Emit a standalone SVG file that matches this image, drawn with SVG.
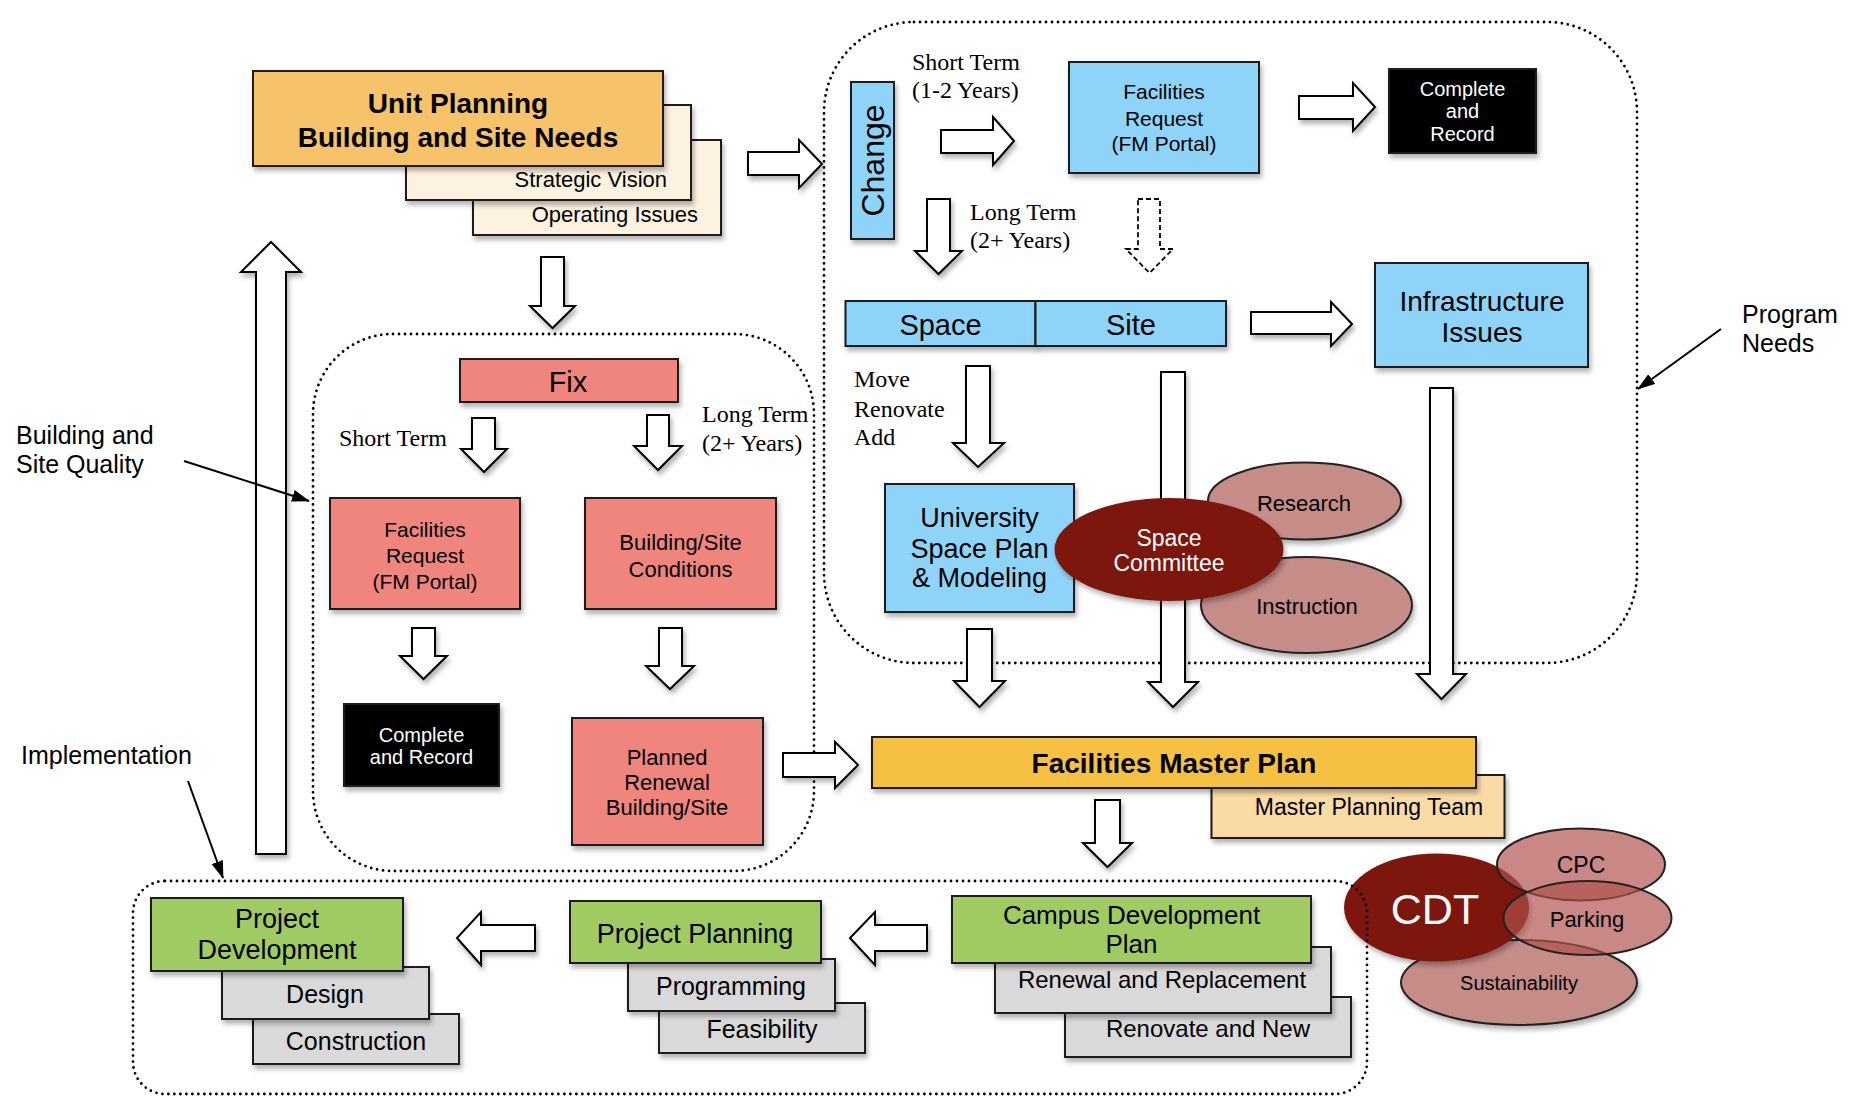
<svg xmlns="http://www.w3.org/2000/svg" width="1864" height="1109" viewBox="0 0 1864 1109">
<defs>
<filter id="sh" x="-10%" y="-10%" width="130%" height="140%"><feDropShadow dx="2" dy="4" stdDeviation="2.5" flood-color="#000" flood-opacity="0.3"/></filter>
<marker id="ah" markerWidth="18" markerHeight="12" refX="17" refY="6" orient="auto" markerUnits="userSpaceOnUse"><path d="M0,0 L18,6 L0,12 Z" fill="#000"/></marker>
</defs>
<style>
.s{font-family:"Liberation Sans",Arial,sans-serif;}
.sr{font-family:"Liberation Serif","Times New Roman",serif;font-size:24px;fill:#000;}
.box{stroke:#1a1a1a;stroke-width:2;filter:url(#sh);}
.cont{fill:none;stroke:#000;stroke-width:2.8;stroke-dasharray:0 6;stroke-linecap:round;}
.ar{fill:#fff;stroke:#000;stroke-width:2;stroke-linejoin:miter;filter:url(#sh);}
.dash{fill:#fff;stroke:#000;stroke-width:1.8;stroke-dasharray:5 3;}
.ann{stroke:#000;stroke-width:2;fill:none;marker-end:url(#ah);}
.c{text-anchor:middle;}
.e{text-anchor:end;}
.blue{fill:#8ED4F8;}
.red{fill:#F0857D;}
.grn{fill:#A0CB63;}
.gry{fill:#D9D9D9;}
.crm{fill:#FDF2DF;}
.blk{fill:#000;}
.w{fill:#fff;}
</style>
<rect width="1864" height="1109" fill="#fff"/>

<!-- CDT cluster (drawn beneath the bottom container) -->
<g id="cdt-cluster">
<ellipse cx="1519" cy="982.5" rx="118" ry="42.5" fill="#C58C88" stroke="#222" stroke-width="2" filter="url(#sh)"/>
<ellipse cx="1436.5" cy="907.5" rx="92.5" ry="54" fill="#7D1711" filter="url(#sh)"/>
<ellipse cx="1581" cy="864.5" rx="84" ry="36" fill="#B0504B" fill-opacity="0.68" stroke="#222" stroke-width="2"/>
<ellipse cx="1587.5" cy="918" rx="84" ry="37" fill="#B0504B" fill-opacity="0.68" stroke="#222" stroke-width="2"/>
<text class="s c" x="1435" y="924" font-size="43" fill="#fff">CDT</text>
<text class="s c" x="1581" y="873" font-size="23">CPC</text>
<text class="s c" x="1587" y="927" font-size="22">Parking</text>
<text class="s c" x="1519" y="990" font-size="20">Sustainability</text>
</g>

<!-- containers -->
<g id="containers">
<rect id="change-container" x="824" y="22" width="813" height="641" rx="90" ry="90" class="cont"/>
<rect id="fix-container" x="313" y="334" width="501" height="537" rx="80" ry="80" class="cont"/>
<rect id="implementation-container" x="133" y="881" width="1234" height="213" rx="32" ry="32" class="cont"/>
</g>

<!-- connectors -->
<g id="connectors">
<polygon class="ar" points="748,152 799,152 799,140 822,164 799,188 799,175 748,175"/>
<polygon class="ar" points="541,257 564,257 564,306 575,306 552.5,328 530,306 541,306"/>
<polygon class="ar" points="256,854 286,854 286,272 301,272 271,242 241,272 256,272"/>
<polygon class="ar" points="472,418 495,418 495,449 507,449 484,472 461,449 472,449"/>
<polygon class="ar" points="647,415 669,415 669,446 682,446 658,470 634,446 647,446"/>
<polygon class="ar" points="412,628 435,628 435,656 447,656 423.5,679 400,656 412,656"/>
<polygon class="ar" points="659,628 682,628 682,666 694,666 670,689 646,666 659,666"/>
<polygon class="ar" points="783,753 835,753 835,742 858,765 835,788 835,777 783,777"/>
<polygon class="ar" points="941,130 993,130 993,117 1014,141 993,165 993,153 941,153"/>
<polygon class="ar" points="1299,96 1353,96 1353,83 1375,107 1353,131 1353,119 1299,119"/>
<polygon class="ar" points="927,199 950,199 950,251 962,251 938.5,274 915,251 927,251"/>
<polygon class="dash" points="1138,199 1160,199 1160,249 1173,249 1149.5,273 1126,249 1138,249"/>
<polygon class="ar" points="1251,312 1331,312 1331,302 1352,324 1331,346 1331,334 1251,334"/>
<polygon class="ar" points="966,366 990,366 990,443 1004,443 978,467 953,443 966,443"/>
<polygon class="ar" points="1161,372 1185,372 1185,682 1198,682 1173,707 1148,682 1161,682"/>
<polygon class="ar" points="1430,388 1453,388 1453,674 1466,674 1441.5,699 1417,674 1430,674"/>
<polygon class="ar" points="967,629 992,629 992,681 1005,681 979.5,707 954,681 967,681"/>
<polygon class="ar" points="1095,800 1120,800 1120,843 1132,843 1107.5,867 1083,843 1095,843"/>
<polygon class="ar" points="927,925 875,925 875,912 850,938 875,965 875,951 927,951"/>
<polygon class="ar" points="535,925 481,925 481,912 457,938 481,965 481,951 535,951"/>
<line class="ann" x1="184" y1="461" x2="309" y2="501"/>
<line class="ann" x1="188" y1="781" x2="223" y2="878"/>
<line class="ann" x1="1721" y1="329" x2="1638" y2="389"/>
</g>

<!-- labels -->
<g id="labels">
<text class="s" x="16" y="444" font-size="25">Building and</text>
<text class="s" x="16" y="473" font-size="25">Site Quality</text>
<text class="s" x="21" y="764" font-size="25">Implementation</text>
<text class="s" x="1742" y="323" font-size="25">Program</text>
<text class="s" x="1742" y="352" font-size="25">Needs</text>
<text class="sr" x="912" y="70">Short Term</text>
<text class="sr" x="912" y="98">(1-2 Years)</text>
<text class="sr" x="970" y="220">Long Term</text>
<text class="sr" x="970" y="248">(2+ Years)</text>
<text class="sr" x="854" y="387">Move</text>
<text class="sr" x="854" y="417">Renovate</text>
<text class="sr" x="854" y="445">Add</text>
<text class="sr" x="339" y="446">Short Term</text>
<text class="sr" x="702" y="422">Long Term</text>
<text class="sr" x="702" y="451">(2+ Years)</text>
</g>

<!-- nodes -->
<g id="unit-planning">
<rect x="473" y="140" width="248" height="95" class="box crm"/>
<rect x="406" y="105" width="285" height="95" class="box crm"/>
<rect x="253" y="71" width="410" height="95" class="box" fill="#F6C26B"/>
<text class="s c" x="458" y="113" font-size="28" font-weight="bold">Unit Planning</text>
<text class="s c" x="458" y="147" font-size="28" font-weight="bold">Building and Site Needs</text>
<text class="s e" x="667" y="187" font-size="22">Strategic Vision</text>
<text class="s e" x="698" y="222" font-size="22">Operating Issues</text>
</g>

<g id="fix">
<rect x="460" y="359" width="218" height="43" class="box red"/>
<text class="s c" x="568" y="392" font-size="29">Fix</text>
</g>
<g id="fix-facilities-request">
<rect x="330" y="498" width="190" height="111" class="box red"/>
<text class="s c" x="425" y="537" font-size="21">Facilities</text>
<text class="s c" x="425" y="563" font-size="21">Request</text>
<text class="s c" x="425" y="589" font-size="21">(FM Portal)</text>
</g>
<g id="building-site-conditions">
<rect x="585" y="498" width="191" height="111" class="box red"/>
<text class="s c" x="680.5" y="550" font-size="22">Building/Site</text>
<text class="s c" x="680.5" y="577" font-size="22">Conditions</text>
</g>
<g id="fix-complete-record">
<rect x="344" y="704" width="155" height="82" class="box blk"/>
<text class="s c w" x="421.5" y="742" font-size="20">Complete</text>
<text class="s c w" x="421.5" y="764" font-size="20">and Record</text>
</g>
<g id="planned-renewal">
<rect x="572" y="718" width="191" height="127" class="box red"/>
<text class="s c" x="667" y="765" font-size="22">Planned</text>
<text class="s c" x="667" y="790" font-size="22">Renewal</text>
<text class="s c" x="667" y="815" font-size="22">Building/Site</text>
</g>

<g id="change">
<rect x="851" y="82" width="43" height="157" class="box blue"/>
<text class="s c" transform="translate(884,160.5) rotate(-90)" font-size="32">Change</text>
</g>
<g id="change-facilities-request">
<rect x="1069" y="62" width="190" height="111" class="box blue"/>
<text class="s c" x="1164" y="99" font-size="21">Facilities</text>
<text class="s c" x="1164" y="126" font-size="21">Request</text>
<text class="s c" x="1164" y="151" font-size="21">(FM Portal)</text>
</g>
<g id="change-complete-record">
<rect x="1389" y="69" width="147" height="84" class="box blk"/>
<text class="s c w" x="1462.5" y="96" font-size="20">Complete</text>
<text class="s c w" x="1462.5" y="118" font-size="20">and</text>
<text class="s c w" x="1462.5" y="141" font-size="20">Record</text>
</g>
<g id="space-site">
<rect x="845.5" y="301" width="190" height="45" class="box blue"/>
<rect x="1035.5" y="301" width="190.5" height="45" class="box blue"/>
<text class="s c" x="940.5" y="335" font-size="29">Space</text>
<text class="s c" x="1131" y="335" font-size="29">Site</text>
</g>
<g id="infrastructure-issues">
<rect x="1375" y="263" width="213" height="104" class="box blue"/>
<text class="s c" x="1482" y="311" font-size="28">Infrastructure</text>
<text class="s c" x="1482" y="342" font-size="28">Issues</text>
</g>
<g id="university-space-plan">
<rect x="885" y="484" width="189" height="128" class="box blue"/>
<text class="s c" x="979.5" y="527" font-size="27">University</text>
<text class="s c" x="979.5" y="558" font-size="27">Space Plan</text>
<text class="s c" x="979.5" y="587" font-size="27">&amp; Modeling</text>
</g>
<g id="research">
<ellipse cx="1304.5" cy="501" rx="96.5" ry="38.5" fill="#C58C88" stroke="#222" stroke-width="2" filter="url(#sh)"/>
<text class="s c" x="1304" y="511" font-size="22">Research</text>
</g>
<g id="instruction">
<ellipse cx="1306.5" cy="605" rx="105.5" ry="48" fill="#C58C88" stroke="#222" stroke-width="2" filter="url(#sh)"/>
<text class="s c" x="1307" y="614" font-size="22">Instruction</text>
</g>
<g id="space-committee">
<ellipse cx="1169" cy="549.5" rx="114.5" ry="51.5" fill="#7D1711" filter="url(#sh)"/>
<text class="s c w" x="1169" y="546" font-size="23">Space</text>
<text class="s c w" x="1169" y="571" font-size="23">Committee</text>
</g>

<g id="facilities-master-plan">
<rect x="1211.5" y="775" width="293" height="63" class="box" fill="#FADBA5"/>
<rect x="872" y="737" width="604" height="51" class="box" fill="#F6C142"/>
<text class="s c" x="1174" y="773" font-size="28" font-weight="bold">Facilities Master Plan</text>
<text class="s c" x="1369" y="815" font-size="23">Master Planning Team</text>
</g>

<g id="project-development">
<rect x="253" y="1014" width="206" height="50" class="box gry"/>
<rect x="222" y="967" width="207" height="52" class="box gry"/>
<rect x="151" y="898" width="252" height="73" class="box grn"/>
<text class="s c" x="277" y="928" font-size="27">Project</text>
<text class="s c" x="277" y="959" font-size="27">Development</text>
<text class="s c" x="325" y="1003" font-size="25">Design</text>
<text class="s c" x="356" y="1050" font-size="25">Construction</text>
</g>
<g id="project-planning">
<rect x="659" y="1003" width="206" height="50" class="box gry"/>
<rect x="628" y="959" width="207" height="52" class="box gry"/>
<rect x="570" y="901" width="251" height="62" class="box grn"/>
<text class="s c" x="695" y="943" font-size="27">Project Planning</text>
<text class="s c" x="731" y="995" font-size="25">Programming</text>
<text class="s c" x="762" y="1038" font-size="25">Feasibility</text>
</g>
<g id="campus-development-plan">
<rect x="1065" y="997" width="286" height="60" class="box gry"/>
<rect x="995" y="947" width="336" height="66" class="box gry"/>
<rect x="952" y="896" width="359" height="67" class="box grn"/>
<text class="s c" x="1131.5" y="924" font-size="26">Campus Development</text>
<text class="s c" x="1131.5" y="953" font-size="26">Plan</text>
<text class="s c" x="1162" y="988" font-size="24">Renewal and Replacement</text>
<text class="s c" x="1208" y="1037" font-size="24">Renovate and New</text>
</g>
</svg>
